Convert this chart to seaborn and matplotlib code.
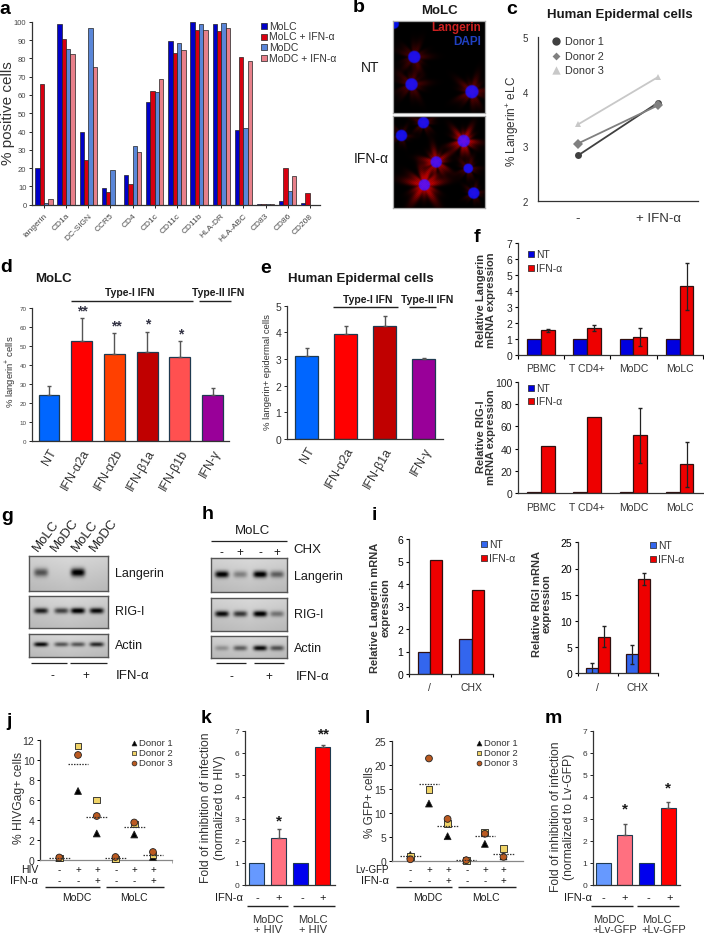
"""
Multi panel figure: langerin / RIG-I expression and HIV inhibition by IFN
"""
import numpy as np
import pandas as pd
import matplotlib
matplotlib.use('Agg')
import matplotlib.pyplot as plt
import seaborn as sns

W, H = 704, 937
DARK = '#333333'
BLUE, RED = '#0000e0', '#ee0000'

# panel a
a_markers = ['langerin', 'CD1a', 'DC-SIGN', 'CCR5', 'CD4', 'CD1c', 'CD11c', 'CD11b', 'HLA-DR', 'HLA-ABC', 'CD83', 'CD86', 'CD208']
a_conditions = ['MoLC', 'MoLC + IFN-α', 'MoDC', 'MoDC + IFN-α']
a_molc = [20, 98.5, 40, 9, 16, 56, 89.5, 100, 98.5, 41, 0.3, 2, 1]
a_molc_ifn = [66, 90.5, 24.5, 7, 11.5, 62, 83, 95.5, 95, 80.5, 0.3, 20, 6.5]
a_modc = [1, 85, 96.5, 19, 32, 61.5, 88.5, 99, 99.5, 42, 0.3, 7.5, 0]
a_modc_ifn = [3, 82.5, 75.5, 0, 29, 68.5, 84.5, 95.5, 96.5, 78.5, 0.3, 15.5, 0]
a_colors = ['#0000c8', '#d80010', '#5a86d8', '#e8808a']

# panel c
c_donors = ['Donor 1', 'Donor 2', 'Donor 3']
c_before = [2.83, 3.05, 3.4]
c_after = [3.8, 3.75, 4.27]
c_colors = ['#404040', '#808080', '#c8c8c8']

# panel d
d_labels = ['NT', 'IFN-α2a', 'IFN-α2b', 'IFN-β1a', 'IFN-β1b', 'IFN-γ']
d_values = [24.5, 53, 46, 47, 44.5, 24.5]
d_errors = [4.5, 12, 11, 10.5, 8, 3.5]
d_colors = ['#0066ff', '#ff0000', '#ff4000', '#c00000', '#ff5050', '#990099']
d_stars = ['', '**', '**', '*', '*', '']

# panel e
e_labels = ['NT', 'IFN-α2a', 'IFN-β1a', 'IFN-γ']
e_values = [3.13, 3.95, 4.25, 3.0]
e_errors = [0.28, 0.3, 0.38, 0.02]
e_colors = ['#0066ff', '#ff0000', '#c00000', '#990099']

# panel f
f_cells = ['PBMC', 'T CD4+', 'MoDC', 'MoLC']
f_lang_nt = [1, 1, 1, 1]
f_lang_ifn = [1.55, 1.7, 1.12, 4.3]
f_lang_err = [0.1, 0.2, 0.55, 1.45]
f_rig_nt = [1, 1, 1, 1]
f_rig_ifn = [42, 68.5, 52, 26]
f_rig_err = [0, 0, 24.5, 20]

# panel i
i_groups = ['/', 'CHX']
i_lang_nt = [1, 1.55]
i_lang_ifn = [5.07, 3.75]
i_rig_nt = [1, 3.6]
i_rig_ifn = [7, 18]
i_rig_nt_err = [1, 1.8]
i_rig_ifn_err = [2, 1.2]

# panels j and l, one list per donor over the six conditions
j_d1 = [0.2, 6.9, 2.65, 0.1, 2.55, 0.3]
j_d2 = [0.2, 11.4, 6, 0.1, 3.6, 0.5]
j_d3 = [0.25, 10.5, 4.4, 0.3, 3.75, 0.8]
j_mean = [0.2, 9.6, 4.35, 0.25, 3.35, 0.55]
l_d1 = [1.2, 11.9, 5.1, 0.1, 3.5, 0.9]
l_d2 = [0.9, 14.8, 7.8, 0.1, 5.9, 2.5]
l_d3 = [0.3, 21.3, 8.7, 0.1, 5.6, 0.8]
l_mean = [0.9, 16, 7.2, 0.15, 5.1, 1.5]
virus_row = ['-', '+', '+', '-', '+', '+']
ifn_row = ['-', '-', '+', '-', '-', '+']

# panels k and m
fold_groups = ['MoDC -', 'MoDC +', 'MoLC -', 'MoLC +']
fold_colors = ['#6699ff', '#ff7080', '#0000ee', '#ff0000']
k_values = [1, 2.13, 1, 6.25]
k_errors = [0, 0.42, 0, 0.08]
m_values = [1, 2.25, 1, 3.5]
m_errors = [0, 0.52, 0, 0.27]

# blots: band strength per lane
g_lanes = [0.15, 0.41, 0.62, 0.86]
h_lanes = [0.14, 0.38, 0.64, 0.86]
g_langerin = [0.55, 0, 1, 0]
g_rig = [0.8, 0.65, 1, 0.9]
g_actin = [0.9, 0.55, 0.55, 0.75]
h_langerin = [0.95, 0.35, 1, 0.5]
h_rig = [0.9, 0.7, 1, 0.4]
h_actin = [0.25, 0.5, 0.9, 0.55]

# microscopy: x, y, nucleus radius, red strength, red spread
b_nt_cells = [(0.23, 0.39, 5.5, 0.45, 11), (0.20, 0.69, 5.5, 0.5, 11), (0.86, 0.77, 6, 0.65, 11), (0.01, 0.03, 4, 0.1, 4)]
b_ifn_cells = [(0.33, 0.07, 5, 0.5, 8), (0.09, 0.21, 5, 0.4, 7), (0.77, 0.27, 5.5, 1.3, 10), (0.47, 0.50, 5, 1.1, 10),
               (0.82, 0.57, 4, 0.45, 8), (0.34, 0.75, 5, 1.3, 13), (0.88, 0.84, 5, 0.45, 7)]


plt.rcParams['font.family'] = ['Liberation Sans', 'DejaVu Sans']
plt.rcParams['mathtext.default'] = 'regular'
plt.rcParams['axes.linewidth'] = 0.9

fig = plt.figure(figsize=(W / 100, H / 100), dpi=100)

# overlay in reference pixels for labels, rules and hand placed legends
ov = fig.add_axes([0, 0, 1, 1], zorder=20)
ov.set_xlim(0, W)
ov.set_ylim(H, 0)
ov.axis('off')


def px_axes(left, top, right, bottom):
    ax = fig.add_axes([left / W, 1 - bottom / H, (right - left) / W, (bottom - top) / H])
    ax.patch.set_alpha(0)
    sns.despine(ax=ax)
    for s in ['left', 'bottom']:
        ax.spines[s].set_color(DARK)
    return ax


def txt(x, y, s, size=8, ha='center', va='center', **kw):
    ov.text(x, y, s, fontsize=size, ha=ha, va=va, color=kw.pop('color', '#1a1a1a'), **kw)


def rule(x0, x1, y, lw=1.0, color='#222222'):
    ov.plot([x0, x1], [y, y], color=color, lw=lw, solid_capstyle='butt')


def square_legend(x, ys, labels, colors, size=8, ms=22):
    for y, lab, col in zip(ys, labels, colors):
        ov.scatter([x], [y], marker='s', s=ms, color=col, edgecolor='#222222', linewidth=0.5)
        txt(x + 5, y, lab, size=size, ha='left', color='#333333')


def single_bars(ax, labels, values, errors, colors, width, lw=0.9, ecolor='#555555'):
    sns.barplot(x=labels, y=values, hue=labels, palette=colors, width=width, saturation=1, legend=False,
                edgecolor='#1f3a50', linewidth=lw, ax=ax)
    for p, e in zip(ax.patches, errors):
        if e > 0:
            ax.errorbar(p.get_x() + p.get_width() / 2, p.get_height(), yerr=[[0], [e]], color=ecolor, lw=1.0, capsize=1.2)


def pair_bars(ax, groups, nt, ifn, nt_err, ifn_err, nt_color=BLUE, width=0.6):
    df = pd.DataFrame({'group': list(groups) * 2, 'value': list(nt) + list(ifn),
                       'cond': ['NT'] * len(nt) + ['IFN'] * len(ifn)})
    sns.barplot(data=df, x='group', y='value', hue='cond', palette=[nt_color, RED], width=width, gap=0, saturation=1,
                legend=False, edgecolor='#301010', linewidth=0.9, ax=ax)
    for p, e in zip(ax.patches, list(nt_err) + list(ifn_err)):
        if e > 0:
            ax.errorbar(p.get_x() + p.get_width() / 2, p.get_height(), yerr=e, color='#222222', lw=0.9, capsize=1.5)
    ax.set_xlabel('')
    ax.set_ylabel('')


def blot(left, top, right, bottom, lanes, strength, yc=0.45, thick=0.1, halfw=0.09, bg=0.85):
    ax = fig.add_axes([left / W, 1 - bottom / H, (right - left) / W, (bottom - top) / H])
    yy, xx = np.mgrid[0:1:60j, 0:1:120j]
    img = bg - 0.1 * yy - 0.06 * np.abs(xx - 0.5)
    for x0, s in zip(lanes, strength):
        img = img - s * 0.85 * np.exp(-((xx - x0) / halfw) ** 4 - ((yy - yc) / thick) ** 2)
    ax.imshow(np.clip(img, 0, 1), cmap='gray', vmin=0, vmax=1, aspect='auto', interpolation='bilinear')
    ax.set_xticks([])
    ax.set_yticks([])
    for s in ax.spines.values():
        s.set_color('#555555')
        s.set_linewidth(1.0)


def micrograph(left, top, right, bottom, cells):
    ax = fig.add_axes([left / W, 1 - bottom / H, (right - left) / W, (bottom - top) / H])
    n = 184
    yy, xx = np.mgrid[0:1:n * 1j, 0:1:n * 1j]
    red = np.zeros_like(xx)
    blue = np.zeros_like(xx)
    for cx, cy, r, s, spread in cells:
        d = np.hypot(xx - cx, yy - cy) * 92
        ang = np.arctan2(yy - cy, xx - cx)
        arms = 1 + 0.28 * np.sin(5 * ang + 9 * cx) + 0.14 * np.sin(11 * ang + 4 * cy)
        speck = 0.55 + 0.45 * np.sin(xx * 340) * np.sin(yy * 310)
        red += s * np.exp(-(d / (spread * arms)) ** 2) * speck
        blue += np.clip(1.8 * (1 - (d / (r + 1.2)) ** 4), 0, 1)
    blue = np.clip(blue, 0, 1)
    img = np.dstack([np.clip(1.2 * red * (1 - 0.55 * blue), 0, 1), 0.06 * blue, blue * 0.9])
    ax.imshow(img, aspect='auto', interpolation='bilinear')
    ax.set_xticks([])
    ax.set_yticks([])
    for s in ax.spines.values():
        s.set_color('#aaaaaa')


# a
ax = px_axes(32, 22.7, 320, 205.7)
a_df = pd.DataFrame({'marker': a_markers * 4, 'value': a_molc + a_molc_ifn + a_modc + a_modc_ifn,
                     'cond': [c for c in a_conditions for _ in a_markers]})
sns.barplot(data=a_df, x='marker', y='value', hue='cond', palette=a_colors, width=0.78, gap=0, saturation=1,
            legend=False, edgecolor='#222222', linewidth=0.5, ax=ax)
ax.set_xlim(-0.54, 12.46)
ax.set_ylim(0, 100)
ax.set_yticks(range(0, 101, 10))
ax.set_xlabel('')
ax.set_ylabel('')
ax.tick_params(axis='y', labelsize=5.5, length=2, width=0.6, pad=2, labelcolor='#444444')
ax.tick_params(axis='x', length=2, width=0.6, pad=3)
ax.set_xticks(range(13))
ax.set_xticklabels(a_markers, rotation=45, ha='right', rotation_mode='anchor', fontsize=6, color='#444444')
txt(8, 113, '% positive cells', size=11, rotation=90, color='#333333')
square_legend(264, [27, 37.5, 48, 58.5], a_conditions, a_colors, size=7.5, ms=14)

# b
micrograph(393, 22, 485, 114, b_nt_cells)
micrograph(393, 117, 485, 209, b_ifn_cells)
txt(439, 11, 'MoLC', size=9.5, fontweight='bold')
txt(370, 68, 'NT', size=10)
txt(371, 159, 'IFN-α', size=10)
txt(481, 28, 'Langerin', size=8.5, ha='right', color='#cc2020', fontweight='bold')
txt(481, 42, 'DAPI', size=8.5, ha='right', color='#2040c0', fontweight='bold')

# c
ax = px_axes(538, 38.3, 698, 201.7)
c_df = pd.DataFrame({'pos': [0] * 3 + [1] * 3, 'value': c_before + c_after, 'donor': c_donors * 2})
sns.lineplot(data=c_df, x='pos', y='value', hue='donor', style='donor', palette=c_colors, dashes=False,
             markers={'Donor 1': 'o', 'Donor 2': 'D', 'Donor 3': '^'}, markersize=5, linewidth=1.3,
             markeredgewidth=0, legend=False, ax=ax)
ax.set_xlim(-0.5, 1.5)
ax.set_ylim(2, 5)
ax.set_yticks([2, 3, 4, 5])
ax.set_xticks([0, 1])
ax.set_xticklabels(['-', '+ IFN-α'], fontsize=9.5, color='#333333')
ax.set_xlabel('')
ax.set_ylabel('')
ax.tick_params(axis='y', labelsize=7, length=0, pad=7, labelcolor='#333333')
ax.tick_params(axis='x', length=0, pad=8)
txt(620, 15, 'Human Epidermal cells', size=9.5, fontweight='bold')
txt(513, 121, '% Langerin$^{+}$ eLC', size=8.5, rotation=90, color='#333333')
for y, mk, col, name, ms in zip([42, 57, 71], ['o', 'D', '^'], c_colors, c_donors, [36, 16, 36]):
    ov.scatter([556], [y], marker=mk, s=ms, color=col, linewidth=0)
    txt(565, y, name, size=7.8, ha='left', color='#333333')

# d
ax = px_axes(32, 309.3, 229, 442)
single_bars(ax, d_labels, d_values, d_errors, d_colors, 0.64)
ax.set_xlim(-0.52, 5.5)
ax.set_ylim(0, 70)
ax.set_yticks(range(0, 71, 10))
ax.set_xticks(range(6))
ax.set_xticklabels(d_labels, rotation=60, ha='right', rotation_mode='anchor', fontsize=9, color='#333333')
ax.tick_params(axis='y', labelsize=4.5, length=2, width=0.6, pad=2, labelcolor='#444444')
ax.tick_params(axis='x', length=0, pad=4)
txt(11, 372, '% langerin$^{+}$ cells', size=6.8, rotation=90, color='#333333')
txt(53, 279, 'MoLC', size=9.5, fontweight='bold')
txt(130, 293, 'Type-I IFN', size=7.5, fontweight='bold')
txt(218, 293, 'Type-II IFN', size=7.5, fontweight='bold')
rule(71, 193, 301.7)
rule(199, 231, 301.7)
for x, s, y in zip([49, 82.7, 116, 148, 180.5, 213], d_stars, [0, 311, 326, 324, 334, 0]):
    if s:
        txt(x, y, s, size=10, color='#333344', fontweight='bold')

# e
ax = px_axes(286.7, 306.7, 443, 440)
single_bars(ax, e_labels, e_values, e_errors, e_colors, 0.6)
ax.set_xlim(-0.51, 3.5)
ax.set_ylim(0, 5)
ax.set_yticks(range(6))
ax.set_xticks(range(4))
ax.set_xticklabels(e_labels, rotation=60, ha='right', rotation_mode='anchor', fontsize=9, color='#333333')
ax.tick_params(axis='y', labelsize=7.5, length=2, width=0.6, pad=2, labelcolor='#333333')
ax.tick_params(axis='x', length=0, pad=4)
txt(267, 372, '% langerin+ epidermal cells', size=6.8, rotation=90, color='#333333')
txt(361, 279, 'Human Epidermal cells', size=9.5, fontweight='bold')
txt(368, 300, 'Type-I IFN', size=7.5, fontweight='bold')
txt(427, 300, 'Type-II IFN', size=7.5, fontweight='bold')
rule(333, 398, 308)
rule(409, 436, 308)

# f top
ax = px_axes(518, 244.3, 702.7, 356)
pair_bars(ax, f_cells, f_lang_nt, f_lang_ifn, [0, 0, 0, 0], f_lang_err)
ax.set_xlim(-0.5, 3.5)
ax.set_ylim(0, 7)
ax.set_yticks(range(8))
ax.set_xticks([-0.5, 0.5, 1.5, 2.5, 3.5])
ax.set_xticklabels([])
ax.set_xticks(range(4), minor=True)
ax.set_xticklabels(f_cells, minor=True, fontsize=7.5, color='#333333')
ax.tick_params(axis='y', labelsize=7.5, length=2, width=0.8, pad=2, labelcolor='#222222')
ax.tick_params(axis='x', which='major', length=3, width=0.8)
ax.tick_params(axis='x', which='minor', length=0, pad=6)
txt(486, 300, 'Relative Langerin\nmRNA expression', size=8, fontweight='bold', rotation=90, color='#333333', linespacing=1.05)
square_legend(531, [255, 269], ['NT', 'IFN-α'], [BLUE, RED], size=7.5, ms=20)

# f bottom
ax = px_axes(518, 382.7, 702.7, 494.3)
pair_bars(ax, f_cells, f_rig_nt, f_rig_ifn, [0, 0, 0, 0], f_rig_err)
ax.set_xlim(-0.5, 3.5)
ax.set_ylim(0, 100)
ax.set_yticks(range(0, 101, 20))
ax.set_xticks([-0.5, 0.5, 1.5, 2.5, 3.5])
ax.set_xticklabels([])
ax.set_xticks(range(4), minor=True)
ax.set_xticklabels(f_cells, minor=True, fontsize=7.5, color='#333333')
ax.tick_params(axis='y', labelsize=7.5, length=2, width=0.8, pad=2, labelcolor='#222222')
ax.tick_params(axis='x', which='major', length=0)
ax.tick_params(axis='x', which='minor', length=0, pad=6)
txt(486, 437, 'Relative RIG-I\nmRNA expression', size=8, fontweight='bold', rotation=90, color='#333333', linespacing=1.05)
square_legend(531, [389, 402], ['NT', 'IFN-α'], [BLUE, RED], size=7.5, ms=20)

# g
blot(29, 557, 108, 592, g_lanes, g_langerin, yc=0.47, thick=0.12)
blot(29, 597, 108, 629, g_lanes, g_rig, yc=0.46, thick=0.09)
blot(29, 635, 108, 658, g_lanes, g_actin, yc=0.45, thick=0.1)
for x, s in zip([40, 58, 79, 97], ['MoLC', 'MoDC', 'MoLC', 'MoDC']):
    txt(x, 554, s, size=9.5, rotation=53, ha='left', va='bottom', rotation_mode='anchor', color='#222222')
txt(115, 574, 'Langerin', size=9, ha='left')
txt(115, 612, 'RIG-I', size=9, ha='left')
txt(115, 646, 'Actin', size=9, ha='left')
rule(31, 67, 663.5, lw=0.9)
rule(70, 107, 663.5, lw=0.9)
txt(52, 676, '-', size=8.5)
txt(86, 676, '+', size=8.5)
txt(133, 676, 'IFN-α', size=9.5)

# h
blot(210.7, 559, 287, 593, h_lanes, h_langerin, yc=0.48, thick=0.1)
blot(210.7, 599, 287, 632, h_lanes, h_rig, yc=0.48, thick=0.09)
blot(210.7, 637, 287, 659, h_lanes, h_actin, yc=0.55, thick=0.12)
txt(252, 531, 'MoLC', size=9.5)
rule(210.7, 287, 542, lw=0.9)
for x, s in zip([221, 240, 260, 277], ['-', '+', '-', '+']):
    txt(x, 553, s, size=8.5)
txt(293, 550, 'CHX', size=9.5, ha='left')
txt(294, 577, 'Langerin', size=9, ha='left')
txt(294, 615, 'RIG-I', size=9, ha='left')
txt(294, 649, 'Actin', size=9, ha='left')
rule(216, 246, 664, lw=0.9)
rule(254, 284, 664, lw=0.9)
txt(231.5, 677, '-', size=8.5)
txt(268.5, 677, '+', size=8.5)
txt(313, 677, 'IFN-α', size=9.5)

# i left
ax = px_axes(409, 540, 492.7, 675)
pair_bars(ax, i_groups, i_lang_nt, i_lang_ifn, [0, 0], [0, 0], nt_color='#3366ee', width=0.59)
ax.set_xlim(-0.5, 1.5)
ax.set_ylim(0, 6)
ax.set_yticks(range(7))
ax.set_xticks([-0.5, 0.5, 1.5])
ax.set_xticklabels([])
ax.set_xticks([0, 1], minor=True)
ax.set_xticklabels(i_groups, minor=True, fontsize=7.5, color='#333333')
ax.tick_params(axis='y', labelsize=7.5, length=2, width=0.8, pad=2)
ax.tick_params(axis='x', which='major', length=2, width=0.8)
ax.tick_params(axis='x', which='minor', length=0, pad=6)
txt(380, 608, 'Relative Langerin mRNA\nexpression', size=8, fontweight='bold', rotation=90, color='#333333', linespacing=1.05)
square_legend(484, [545, 559], ['NT', 'IFN-α'], ['#3366ee', RED], size=7.5, ms=20)

# i right
ax = px_axes(577.7, 543.3, 658, 674.3)
pair_bars(ax, i_groups, i_rig_nt, i_rig_ifn, i_rig_nt_err, i_rig_ifn_err, nt_color='#3366ee', width=0.59)
ax.set_xlim(-0.5, 1.5)
ax.set_ylim(0, 25)
ax.set_yticks(range(0, 26, 5))
ax.set_xticks([-0.5, 0.5, 1.5])
ax.set_xticklabels([])
ax.set_xticks([0, 1], minor=True)
ax.set_xticklabels(i_groups, minor=True, fontsize=7.5, color='#333333')
ax.tick_params(axis='y', labelsize=7.5, length=2, width=0.8, pad=2)
ax.tick_params(axis='x', which='major', length=2, width=0.8)
ax.tick_params(axis='x', which='minor', length=0, pad=6)
txt(541.7, 604, 'Relative RIGI mRNA\nexpression', size=8, fontweight='bold', rotation=90, color='#333333', linespacing=1.05)
square_legend(653, [545.7, 560], ['NT', 'IFN-α'], ['#3366ee', RED], size=7.5, ms=20)


# j and l share one layout
def donor_panel(box, d1, d2, d3, means, ymax, step, xlim):
    ax = px_axes(*box)
    df = pd.DataFrame({'pos': list(range(6)) * 3, 'value': d1 + d2 + d3,
                       'donor': ['D1'] * 6 + ['D2'] * 6 + ['D3'] * 6})
    sns.scatterplot(data=df, x='pos', y='value', hue='donor', style='donor', palette=['#000000', '#f0d468', '#bb5a20'],
                    markers={'D1': '^', 'D2': 's', 'D3': 'o'}, s=24, edgecolor='#222222', linewidth=0.6,
                    legend=False, clip_on=False, zorder=3, ax=ax)
    ax.hlines(means, np.arange(6) - 0.55, np.arange(6) + 0.55, color='#333333', lw=0.9, linestyles=(0, (1.2, 1)), zorder=4)
    ax.set_xlim(*xlim)
    ax.set_ylim(0, ymax)
    ax.set_yticks(range(0, ymax + 1, step))
    ax.set_xticks([])
    ax.set_xlabel('')
    ax.set_ylabel('')
    ax.spines['bottom'].set_color('#888888')
    ax.tick_params(axis='y', labelsize=7.5, length=2, width=0.7, pad=2, labelcolor='#333333')
    return ax


def donor_legend(mx, size=6.8):
    for y, mk, col, name in zip([744, 754, 764], ['^', 's', 'o'], ['#000000', '#f0d468', '#bb5a20'], c_donors):
        ov.scatter([mx], [y], marker=mk, s=12, color=col, edgecolor='#222222', linewidth=0.5)
        txt(mx + 5, y, name, size=size, ha='left', color='#333333')


ax = donor_panel((40, 741, 171.7, 861), j_d1, j_d2, j_d3, j_mean, 12, 2, (-1.03, 6.0))
ax.set_xticks([6.0])
ax.set_xticklabels([])
ax.tick_params(axis='x', length=2, width=0.5, color='#888888')
donor_legend(134)
txt(19, 798, '% HIVGag+ cells', size=8.7, rotation=90, color='#333333')
for x, v, i in zip([59.3, 78.3, 97, 115.7, 134.3, 153], virus_row, ifn_row):
    txt(x, 870, v, size=7)
    txt(x, 881, i, size=7)
txt(38, 870, 'HIV', size=7.5, ha='right')
txt(38, 881, 'IFN-α', size=8, ha='right')
rule(45, 100, 887.7)
rule(106, 164, 887.7)
txt(76.7, 897.7, 'MoDC', size=7.5)
txt(134.3, 897.7, 'MoLC', size=7.5)

donor_panel((391.7, 741.7, 522.7, 861.7), l_d1, l_d2, l_d3, l_mean, 25, 5, (-1.0, 6.03))
donor_legend(479.3)
txt(370, 802, '% GFP+ cells', size=8.5, rotation=90, color='#333333')
for x, v, i in zip([410.3, 429.3, 448, 466.7, 485.3, 503.7], virus_row, ifn_row):
    txt(x, 870, v, size=7)
    txt(x, 881, i, size=7)
txt(389, 870, 'Lv-GFP', size=7, ha='right')
txt(389, 881, 'IFN-α', size=8, ha='right')
rule(396, 451.7, 887.7)
rule(457.7, 515.7, 887.7)
txt(427.7, 897.7, 'MoDC', size=7.5)
txt(486, 897.7, 'MoLC', size=7.5)


# k and m
def fold_panel(box, values, errors, width, xlim):
    ax = px_axes(*box)
    single_bars(ax, fold_groups, values, errors, fold_colors, width, lw=0.8)
    ax.set_xlim(*xlim)
    ax.set_ylim(0, 7)
    ax.set_yticks(range(8))
    ax.set_xticks([])
    ax.tick_params(axis='y', labelsize=6, length=2, width=0.6, pad=2, labelcolor='#333333')
    return ax


fold_panel((245, 731.7, 335, 885.7), k_values, k_errors, 0.7, (-0.53, 3.56))
txt(213, 808, 'Fold of inhibition of infection\n(normalized to HIV)', size=8.7, rotation=90, color='#333333', linespacing=1.15)
txt(243, 897.7, 'IFN-α', size=8, ha='right')
for x, s in zip([257, 279, 302, 323], ['-', '+', '-', '+']):
    txt(x, 897.7, s, size=8)
rule(246.7, 288, 907)
rule(292.7, 335, 907)
txt(268, 925, 'MoDC\n+ HIV', size=8, color='#333333', linespacing=1.05)
txt(313, 925, 'MoLC\n+ HIV', size=8, color='#333333', linespacing=1.05)
txt(279, 821, '*', size=11, fontweight='bold')
txt(323.5, 734, '**', size=11, fontweight='bold')

fold_panel((592.7, 731.7, 680, 885.7), m_values, m_errors, 0.7, (-0.49, 3.55))
txt(562.5, 817, 'Fold of inhibition of infection\n(normalized to Lv-GFP)', size=8.7, rotation=90, color='#333333', linespacing=1.15)
txt(591.7, 897.7, 'IFN-α', size=8, ha='right')
for x, s in zip([603, 624.5, 648, 670], ['-', '+', '-', '+']):
    txt(x, 897.7, s, size=8)
rule(591, 633, 907)
rule(636.7, 679, 907)
txt(592.7, 925, 'MoDC\n+Lv-GFP', size=8, ha='left', color='#333333', linespacing=1.05)
txt(641.7, 925, 'MoLC\n+Lv-GFP', size=8, ha='left', color='#333333', linespacing=1.05)
txt(625, 809, '*', size=11, fontweight='bold')
txt(668, 788, '*', size=11, fontweight='bold')

# panel letters
for x, y, s in [(5, 9, 'a'), (359, 8, 'b'), (512, 9, 'c'), (6, 268, 'd'), (266, 269, 'e'), (477, 237, 'f'),
                (7, 517, 'g'), (208, 515, 'h'), (374, 516, 'i'), (9, 722, 'j'), (206, 719, 'k'), (367, 719, 'l'), (553, 719, 'm')]:
    txt(x, y, s, size=14, fontweight='bold', color='#000000')

fig.savefig('out.png', dpi=100)
